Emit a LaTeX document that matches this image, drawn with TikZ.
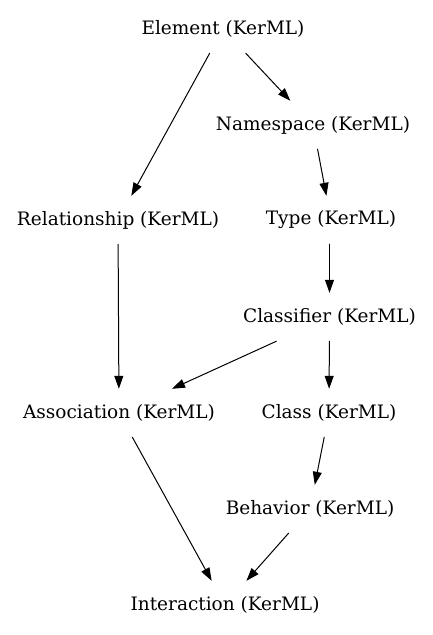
\documentclass[tikz,border=0pt]{standalone}
\usepackage{fontspec}
\setmainfont{DejaVu Serif}
\usetikzlibrary{arrows.meta}
\begin{document}
\begin{tikzpicture}[x=1pt, y=-1pt, font=\fontsize{18.5}{22}\selectfont, line join=round, line cap=round, >={Triangle[length=13pt,width=9pt]},
  cls/.style={inner xsep=4pt, minimum height=48pt},
  gen/.style={->, line width=1pt}]
 			\useasboundingbox (0,0) rectangle (433,635);
 			\node[cls] (element) at (223,29) {Element (KerML)};
 			\node[cls] (namespace) at (313,125) {Namespace (KerML)};
 			\node[cls] (relationship) at (118,220) {Relationship (KerML)};
 			\node[cls] (type) at (331,220) {Type (KerML)};
 			\node[cls] (classifier) at (329.5,317) {Classifier (KerML)};
 			\node[cls] (association) at (119,413) {Association (KerML)};
 			\node[cls] (class) at (329,413) {Class (KerML)};
 			\node[cls] (behavior) at (310,509) {Behavior (KerML)};
 			\node[cls] (interaction) at (225,605) {Interaction (KerML)};
 			% edges
 			\draw[gen] (element) -- (namespace);
 			\draw[gen] (element) -- (relationship);
 			\draw[gen] (namespace) -- (type);
 			\draw[gen] (type.south -| classifier) -- (classifier);
 			\draw[gen] (relationship) -- (association);
 			\draw[gen] (classifier) -- (association);
 			\draw[gen] (classifier) -- (class);
 			\draw[gen] (class) -- (behavior);
 			\draw[gen] (association) -- (interaction);
 			\draw[gen] (behavior) -- (interaction);
 	\end{tikzpicture}
\end{document}
